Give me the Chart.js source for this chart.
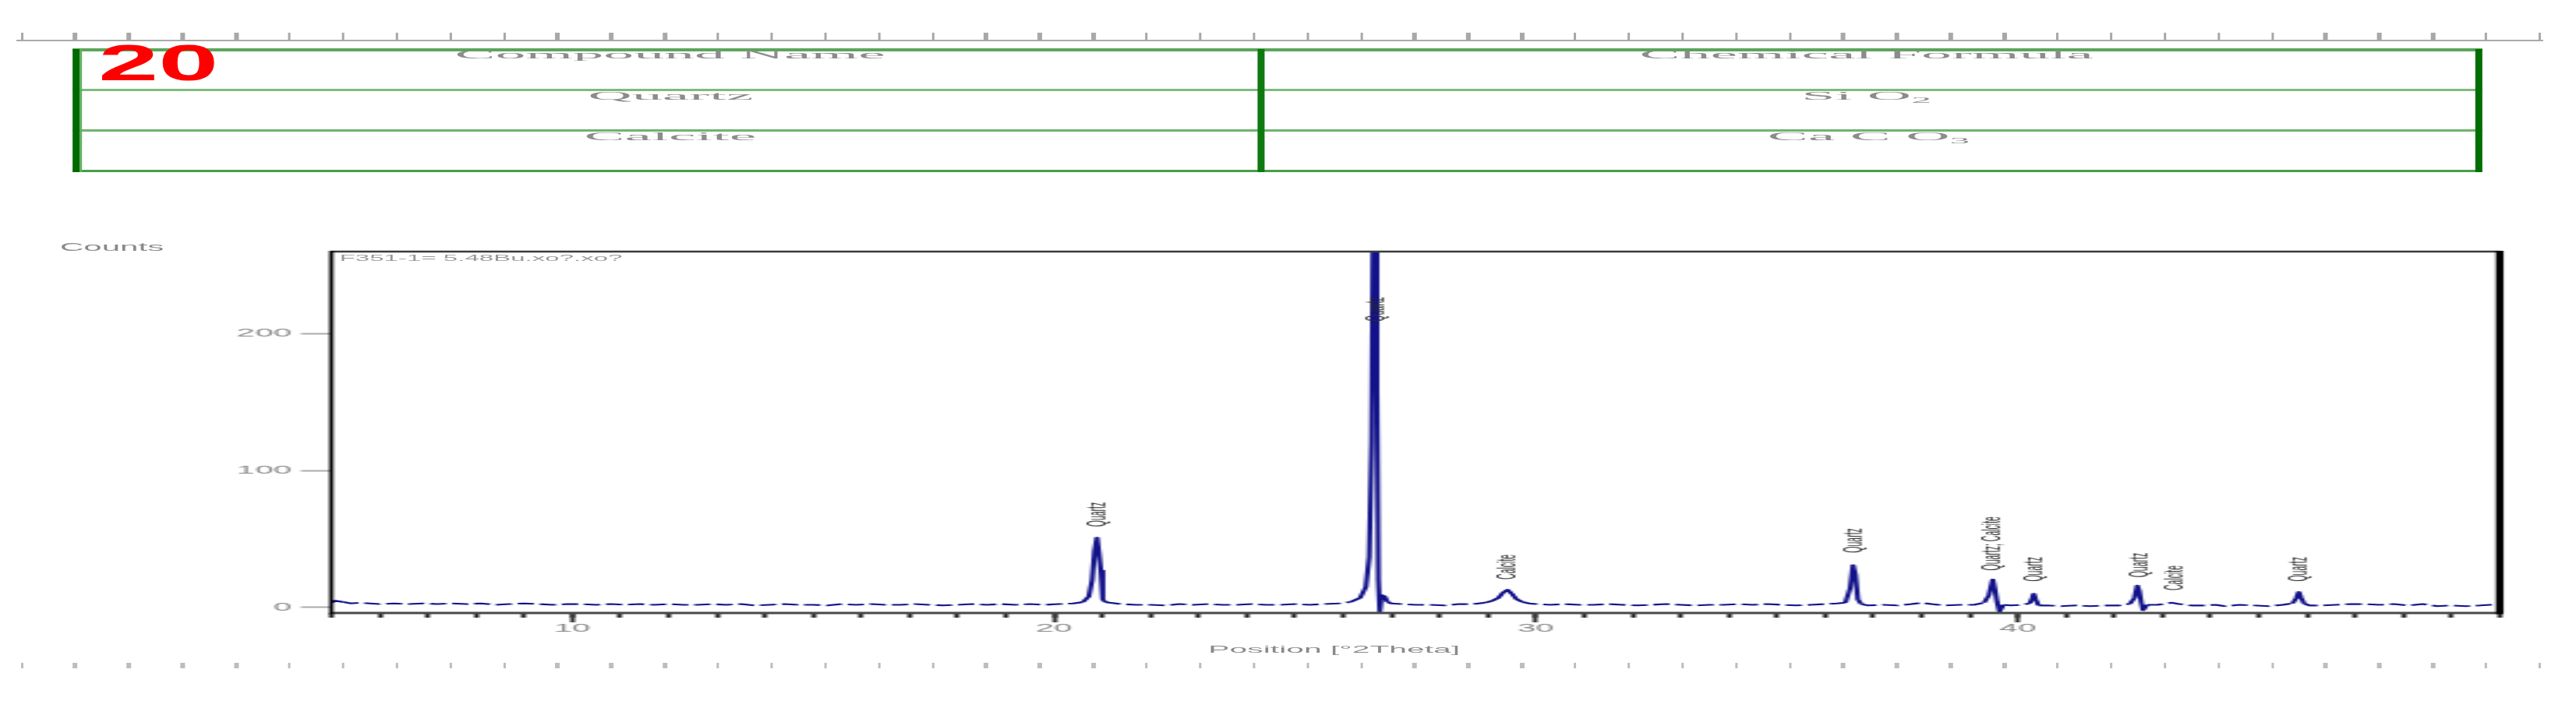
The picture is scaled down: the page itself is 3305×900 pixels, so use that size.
<!DOCTYPE html>
<html><head><meta charset="utf-8">
<script src="https://cdn.jsdelivr.net/npm/chart.js@4.4.1/dist/chart.umd.min.js"></script>
<style>
html,body{margin:0;padding:0;background:#fff;width:3305px;height:900px;overflow:hidden}
#wrap{position:absolute;left:0;top:0;width:1100px;height:900px;transform-origin:0 0;transform:scaleX(3.004545)}
#c{position:absolute;left:0;top:0}
.hl{position:absolute}
.vl{position:absolute;background:#0b760b}
.cell{position:absolute;font-family:"Liberation Serif","Times New Roman",serif;font-size:15px;line-height:15px;color:#8c8c8c;text-align:center;white-space:nowrap}
.cell span{display:inline-block;transform:scaleX(1.73);transform-origin:50% 50%}
.tk{position:absolute;width:1.4px}
.gray{position:absolute;font-family:Arial,"Liberation Sans",sans-serif;color:#8a8a8a;white-space:nowrap}
</style></head>
<body>
<div id="wrap">
  <div id="rulers"></div>
  <canvas id="c" width="1100" height="900"></canvas>

  <!-- compound table -->
  <div class="hl" style="left:31px;width:1029px;top:62px;height:3.5px;background:#5aa65a"></div>
  <div class="hl" style="left:31px;width:1029px;top:114px;height:3px;background:#7dbb7d"></div>
  <div class="hl" style="left:31px;width:1029px;top:166px;height:2.5px;background:#6fb46f"></div>
  <div class="hl" style="left:31px;width:1029px;top:218px;height:3px;background:#4a9e4a"></div>
  <div class="vl" style="left:31px;width:3px;top:63px;height:158px;background:#006a00"></div>
  <div class="vl" style="left:34px;width:1.4px;top:63px;height:158px;background:#5fae5f"></div>
  <div class="vl" style="left:536.6px;width:3.5px;top:63px;height:158px;background:#0e790e"></div>
  <div class="vl" style="left:1056.5px;width:3.5px;top:63px;height:158px;background:#006e00"></div>

  <div class="cell" style="left:36px;width:500px;top:63px"><span>Compound Name</span></div>
  <div class="cell" style="left:540px;width:515px;top:63px"><span>Chemical Formula</span></div>
  <div class="cell" style="left:36px;width:500px;top:115.5px"><span>Quartz</span></div>
  <div class="cell" style="left:540px;width:515px;top:115.5px"><span>Si O<sub style="font-size:10px">2</sub></span></div>
  <div class="cell" style="left:36px;width:500px;top:167.5px"><span>Calcite</span></div>
  <div class="cell" style="left:540px;width:515px;top:167.5px"><span>Ca C O<sub style="font-size:10px">3</sub></span></div>

  <div style="position:absolute;left:42px;top:48.5px;font-family:Arial,'Liberation Sans',sans-serif;font-weight:bold;font-size:65px;line-height:64px;color:#ff0000;transform:scaleX(0.71);transform-origin:0 0;white-space:nowrap">20</div>

  <div class="gray" style="left:25.6px;top:310px;font-size:14px;line-height:14px">Counts</div>
  <div class="gray" style="left:145px;top:325.5px;font-size:11px;line-height:11px;color:#999">F351-1= 5.48Bu.xo?.xo?</div>
  <div class="gray" style="left:516px;top:826.5px;font-size:13.6px;line-height:13px">Position [°2Theta]</div>
</div>
<script>
const S = 3305 / 1100;

// ---- data ----
const twoTheta = [
  5.00, 5.08, 5.16, 5.25, 5.40, 5.60, 5.80, 6.00, 6.30, 6.60, 6.90, 7.20, 7.50, 7.80, 8.10, 8.40, 8.70, 9.00, 9.30, 9.60, 9.90,
  10.2, 10.5, 10.8, 11.1, 11.4, 11.7, 12.0, 12.3, 12.6, 12.9, 13.2, 13.5, 13.8, 14.1, 14.4, 14.7, 15.0, 15.3, 15.6, 15.9,
  16.2, 16.5, 16.8, 17.1, 17.4, 17.7, 18.0, 18.3, 18.6, 18.9, 19.2, 19.5, 19.8, 20.1, 20.4,
  20.60, 20.72, 20.79, 20.84, 20.89, 20.93, 20.97, 21.01, 21.06, 21.15, 21.4, 21.7,
  22.0, 22.3, 22.6, 22.9, 23.2, 23.5, 23.8, 24.1, 24.4, 24.7, 25.0, 25.3, 25.6, 25.9,
  26.15, 26.35, 26.47, 26.54, 26.59, 26.63, 26.66, 26.70, 26.73, 26.76, 26.80, 26.86, 26.92,
  27.0, 27.2, 27.5, 27.8, 28.1, 28.4, 28.7,
  28.95, 29.10, 29.22, 29.32, 29.41, 29.50, 29.60, 29.72, 29.85,
  30.0, 30.3, 30.6, 30.9, 31.2, 31.5, 31.8, 32.1, 32.4, 32.7, 33.0, 33.3, 33.6, 33.9, 34.2, 34.5, 34.8, 35.1, 35.4, 35.7, 36.0,
  36.25, 36.42, 36.52, 36.58, 36.63, 36.68, 36.75, 36.9,
  37.2, 37.5, 37.8, 38.0, 38.2, 38.5, 38.8, 39.1,
  39.30, 39.40, 39.48, 39.52, 39.57, 39.62, 39.70, 39.85,
  40.10, 40.25, 40.30, 40.33, 40.37, 40.43, 40.6, 40.9, 41.2, 41.5, 41.8, 42.1,
  42.32, 42.42, 42.48, 42.52, 42.56, 42.60, 42.68, 42.9,
  43.1, 43.2, 43.35, 43.6, 43.9, 44.1, 44.3, 44.6, 44.9, 45.2, 45.5,
  45.70, 45.78, 45.83, 45.88, 45.94, 46.05,
  46.3, 46.6, 46.9, 47.2, 47.5, 47.8, 48.1, 48.4, 48.7, 49.0, 49.3, 49.6, 49.8, 50.0
];
const counts = [
  3.5, 5.0, 4.5, 4.0, 3.0, 3.5, 3.0, 2.5, 3.0, 2.5, 3.0, 2.5, 3.0, 2.5, 3.0, 2.0, 2.5, 3.0, 2.5, 2.0, 2.5,
  2.5, 2.0, 2.5, 2.0, 2.5, 2.0, 2.5, 2.0, 2.0, 2.5, 2.0, 2.5, 1.5, 2.0, 2.5, 2.0, 2.0, 1.5, 2.5, 2.0,
  2.5, 2.0, 2.0, 2.5, 2.0, 1.5, 2.0, 2.5, 2.0, 2.5, 2.0, 2.5, 2.0, 2.5, 3.0,
  4.0, 8.0, 20, 41, 51, 40, 27, 6, 4, 3.5, 2.5, 2.0,
  2.0, 1.5, 2.5, 2.0, 2.5, 2.0, 2.0, 2.5, 2.0, 2.0, 2.5, 2.0, 2.5, 3.0,
  4.0, 7, 15, 37, 120, 330, 420, 160, 20, -3, 9, 8, 4,
  3.0, 2.5, 2.0, 2.0, 1.5, 2.5, 2.5,
  3.5, 5, 7, 11, 13, 10, 6, 4, 3,
  2.5, 2.0, 2.5, 2.0, 2.0, 2.5, 2.0, 1.5, 2.0, 2.5, 2.0, 1.5, 2.0, 2.0, 2.5, 2.0, 2.5, 2.0, 1.5, 2.0, 2.5,
  3.0, 3.5, 14, 31, 24, 6, 2.5, 1.5,
  2.0, 1.5, 2.5, 3.5, 2.5, 1.5, 2.0, 2.0,
  3.5, 9, 20.5, 14, 4, -3, 2, 1.5,
  2.0, 3.0, 7, 10, 6, 1.5, 1.5, 1.0, 1.5, 1.0, 1.5, 1.5,
  2.5, 7, 16, 12, 4, -2, 2, 2.0,
  3.0, 3.5, 2.5, 1.5, 1.5, 2.0, 1.0, 2.0, 1.5, 1.0, 2.0,
  3.0, 7, 11.4, 7, 3, 1.5,
  1.5, 2.0, 2.5, 2.5, 2.0, 2.5, 1.5, 2.5, 1.0, 1.5, 1.0, 1.5, 2.0, 2.0
];
const xMajorTicks = [10, 20, 30, 40];
const xTickLabels = ['10', '20', '30', '40'];
const xMinorTicks = [5, 6, 7, 8, 9, 10, 11, 12, 13, 14, 15, 16, 17, 18, 19, 20, 21, 22, 23, 24, 25, 26, 27,
  28, 29, 30, 31, 32, 33, 34, 35, 36, 37, 38, 39, 40, 41, 42, 43, 44, 45, 46, 47, 48, 49, 50];
const yTicks = [0, 100, 200];
const yTickLabels = ['0', '100', '200'];
const peakPos = [20.92, 26.72, 29.41, 36.62, 39.50, 40.38, 42.53, 43.26, 45.87];
const peakLabelAt = [59, 209, 20.5, 40, 27, 19, 22, 12.5, 19];
const peakNames = ['Quartz', 'Quartz', 'Calcite', 'Quartz', 'Quartz; Calcite', 'Quartz', 'Quartz', 'Calcite', 'Quartz'];

// ---- decorative rulers ----
(function () {
  const r = document.getElementById('rulers');
  const line = document.createElement('div');
  line.style.cssText = 'position:absolute;left:' + (20 / S) + 'px;width:' + (3242 / S) + 'px;top:51px;height:2px;background:#aaa';
  r.appendChild(line);
  for (let i = 0; i < 48; i++) {
    const x = (28 + 68.74 * i) / S - 0.7;
    const t = document.createElement('div');
    t.className = 'tk';
    t.style.cssText += 'left:' + x + 'px;top:42px;height:10px;background:#a8a8a8';
    r.appendChild(t);
    const b = document.createElement('div');
    b.className = 'tk';
    b.style.cssText += 'left:' + x + 'px;top:851px;height:7px;background:#bdbdbd';
    r.appendChild(b);
  }
})();

Chart.defaults.font.family = 'Arial, "Liberation Sans", sans-serif';

const framePlugin = {
  id: 'frame',
  afterDatasetsDraw(chart) {
    const { ctx, chartArea: a } = chart;
    ctx.save();
    ctx.lineCap = 'butt';
    ctx.strokeStyle = '#3a3a3a'; ctx.lineWidth = 2.5;
    ctx.beginPath(); ctx.moveTo(a.left, a.top); ctx.lineTo(a.right, a.top); ctx.stroke();
    ctx.strokeStyle = '#4a4a4a'; ctx.lineWidth = 3;
    ctx.beginPath(); ctx.moveTo(a.left, a.bottom); ctx.lineTo(a.right, a.bottom); ctx.stroke();
    ctx.strokeStyle = '#000'; ctx.lineWidth = 1.8;
    ctx.beginPath(); ctx.moveTo(a.left, a.top - 1); ctx.lineTo(a.left, a.bottom + 1.5); ctx.stroke();
    ctx.lineWidth = 3.3;
    ctx.beginPath(); ctx.moveTo(a.right, a.top - 1); ctx.lineTo(a.right, a.bottom + 1.5); ctx.stroke();
    ctx.restore();
  }
};

const peakLabelPlugin = {
  id: 'peakLabels',
  afterDatasetsDraw(chart) {
    const { ctx, scales: { x, y } } = chart;
    ctx.save();
    ctx.font = '10.5px Arial, "Liberation Sans", sans-serif';
    ctx.fillStyle = '#2b2b2b';
    ctx.textAlign = 'left';
    ctx.textBaseline = 'middle';
    peakNames.forEach((t, i) => {
      const px = x.getPixelForValue(peakPos[i]);
      const py = y.getPixelForValue(peakLabelAt[i]);
      ctx.save();
      ctx.translate(px, py);
      ctx.rotate(-Math.PI / 2);
      ctx.fillText(t, 0, 0);
      ctx.restore();
    });
    ctx.restore();
  }
};

// baseline segments look broken in the reference; peaks are solid
const lowSegment = c => (c.p0.parsed.y < 4.5 && c.p1.parsed.y < 4.5 && c.p0.parsed.y > -1 && c.p1.parsed.y > -1);

new Chart(document.getElementById('c'), {
  type: 'line',
  data: {
    datasets: [{
      data: twoTheta.map((v, i) => ({ x: v, y: counts[i] })),
      borderColor: '#12128a',
      borderWidth: 2.1,
      borderJoinStyle: 'round',
      pointRadius: 0,
      tension: 0,
      fill: false,
      segment: {
        borderDash: c => lowSegment(c) ? [7, 2.5] : undefined
      }
    }]
  },
  options: {
    responsive: false,
    animation: false,
    devicePixelRatio: 1,
    layout: { padding: { top: 323, right: 32.6, bottom: 73, left: 0 } },
    plugins: { legend: { display: false }, tooltip: { enabled: false } },
    scales: {
      xMinor: {
        type: 'linear', position: 'bottom', weight: 0, min: 5, max: 50,
        afterBuildTicks: s => { s.ticks = xMinorTicks.map(v => ({ value: v })); },
        afterFit: s => { s.height = 0; },
        grid: { drawOnChartArea: false, drawTicks: true, tickLength: 6, tickColor: '#1a1a1a', tickWidth: 2 },
        border: { display: false },
        ticks: { display: false }
      },
      x: {
        type: 'linear', position: 'bottom', weight: 1, min: 5, max: 50,
        afterBuildTicks: s => { s.ticks = xMajorTicks.map(v => ({ value: v })); },
        afterFit: s => { s.height = 40; },
        grid: { drawOnChartArea: false, drawTicks: true, tickLength: 12, tickColor: '#333', tickWidth: 2 },
        border: { display: false },
        ticks: {
          color: '#8a8a8a', font: { size: 14 }, padding: 0, maxRotation: 0, autoSkip: false,
          callback: (v, i) => xTickLabels[i]
        }
      },
      y: {
        type: 'linear', position: 'left', min: -4, max: 260,
        afterBuildTicks: s => { s.ticks = yTicks.map(v => ({ value: v })); },
        afterFit: s => { s.width = 141.45; },
        grid: { drawOnChartArea: false, drawTicks: true, tickLength: 13, tickColor: '#aaa', tickWidth: 2 },
        border: { display: false },
        ticks: {
          color: '#8a8a8a', font: { size: 14 }, padding: 4,
          callback: (v, i) => yTickLabels[i]
        }
      }
    }
  },
  plugins: [framePlugin, peakLabelPlugin]
});
</script>
</body></html>
